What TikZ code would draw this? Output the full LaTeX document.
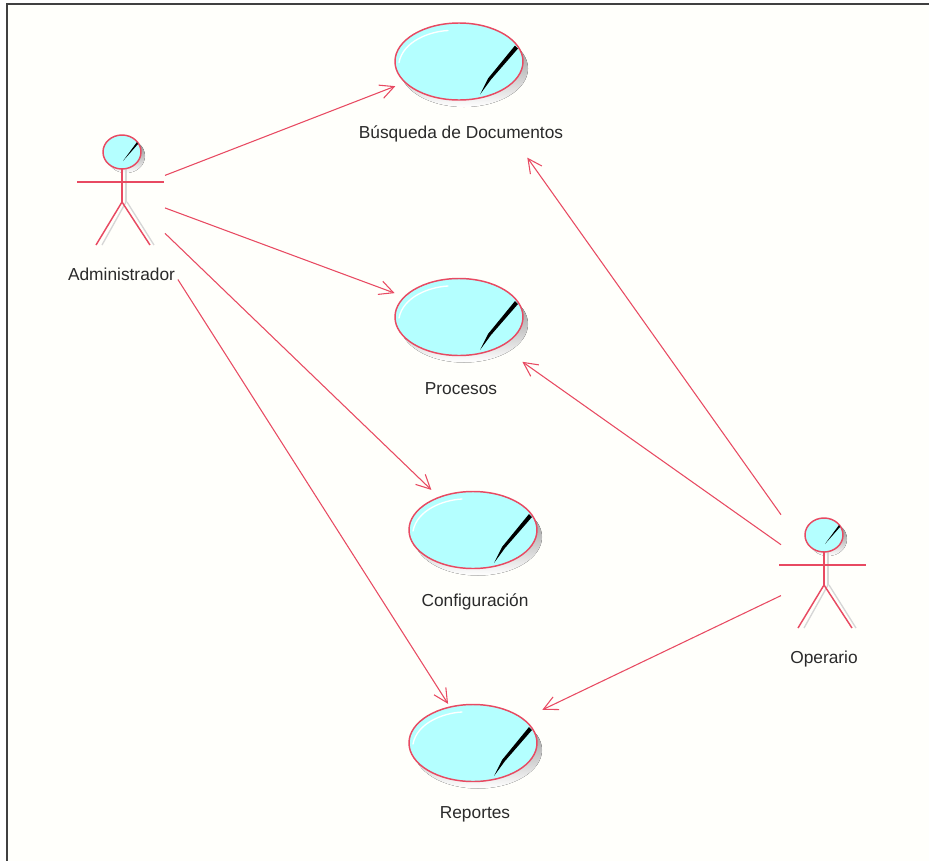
\documentclass[tikz,border=0pt]{standalone}
\usepackage{fontspec}
\setmainfont{Liberation Sans}
\usetikzlibrary{arrows.meta,shapes.geometric}
\definecolor{umlred}{HTML}{E84A62}
\definecolor{umlfill}{HTML}{B4FFFF}
\definecolor{paper}{HTML}{FFFFFB}
\definecolor{shade}{HTML}{C4C4C4}
\definecolor{labelink}{HTML}{2A2A2A}
\tikzset{
  x=0.75pt,y=-0.75pt,
  usecase/.style={ellipse,draw=umlred,fill=umlfill,line width=1.1pt,minimum width=96pt,minimum height=57.75pt,inner sep=0pt,outer sep=7.5pt},
  actorbox/.style={rectangle,minimum width=64.5pt,minimum height=132pt,inner sep=0pt,outer sep=0pt},
  assoc/.style={draw=umlred,line width=0.8pt,-{Straight Barb[length=10.5pt,width=10.5pt,line width=0.8pt]}},
  caption/.style={text=labelink,font=\fontsize{13pt}{15pt}\selectfont,inner sep=0pt},
  stick/.style={draw=umlred,line width=1.1pt},
  stickshade/.style={draw=shade!70!white,line width=1pt},
}
\newcommand{\usecaseat}[5]{% name, x, y, label, label y
  \fill[shade] (#2+5,#3+7) ellipse [x radius=64,y radius=38.5];
  \node[usecase] (#1) at (#2,#3) {};
  \draw[white,line width=1pt,line cap=round] (#2-60,#3+1) .. controls (#2-56,#3-20) and (#2-30,#3-30) .. (#2-11,#3-31);
  \fill[black] (#2+56,#3-16) -- (#2+59,#3-13) -- (#2+32,#3+18) -- (#2+21,#3+33) -- (#2+29,#3+17) -- cycle;
  \node[caption] (#1label) at (#2+2,#5) {#4};
}
\newcommand{\actorat}[4]{% name, x, y(head centre), label, label y
  \fill[shade] (#2+4,#3+4) ellipse [x radius=19,y radius=17];
  \draw[stickshade] (#2+4,#3+17) -- (#2+4,#3+50);
  \draw[stickshade] (#2+5,#3+50) -- (#2+32,#3+93);
  \draw[stickshade] (#2+4,#3+50) -- (#2-20,#3+93);
  \draw[stick] (#2-45,#3+30) -- (#2+42,#3+30);
  \draw[stick] (#2,#3+17) -- (#2,#3+50);
  \draw[stick] (#2,#3+50) -- (#2-26,#3+93);
  \draw[stick] (#2,#3+50) -- (#2+28,#3+93);
  \draw[umlred,fill=umlfill,line width=1.1pt] (#2,#3) ellipse [x radius=19,y radius=17];
  \fill[black] (#2+15,#3-10) -- (#2+16,#3-8) -- (#2+1,#3+9) -- cycle;
  \node[actorbox] (#1) at (#2,#3+40) {};
}
\begin{document}
\begin{tikzpicture}
\useasboundingbox (0,0) rectangle (929,861);
\fill[white] (0,0) rectangle (929,861);
\fill[paper] (7,4) rectangle (929,861);
\draw[black!75,line width=1.5pt] (7,861) -- (7,4) -- (929,4);
\usecaseat{busq}{459}{61.5}{Búsqueda de Documentos}{134}
\usecaseat{proc}{459}{317}{Procesos}{389}
\usecaseat{conf}{473}{530}{Configuración}{602}
\usecaseat{repo}{473}{743}{Reportes}{814}
\actorat{admin}{122}{152}{Administrador}{}
\actorat{oper}{824}{535}{Operario}{}
\node[caption] (adminlabel) at (121.5,274) {Administrador};
\node[caption] (operlabel) at (824,659) {Operario};
\draw[assoc] (admin) -- (busq);
\draw[assoc] (admin) -- (proc);
\draw[assoc] (admin) -- (conf);
\draw[assoc,shorten <=18pt,shorten >=-5pt] (admin) -- (repo);
\draw[assoc,shorten >=48pt] (oper) -- (busq);
\draw[assoc,shorten >=12pt] (oper) -- (proc);
\draw[assoc,shorten >=8pt] (oper) -- (repo);
\end{tikzpicture}
\end{document}
